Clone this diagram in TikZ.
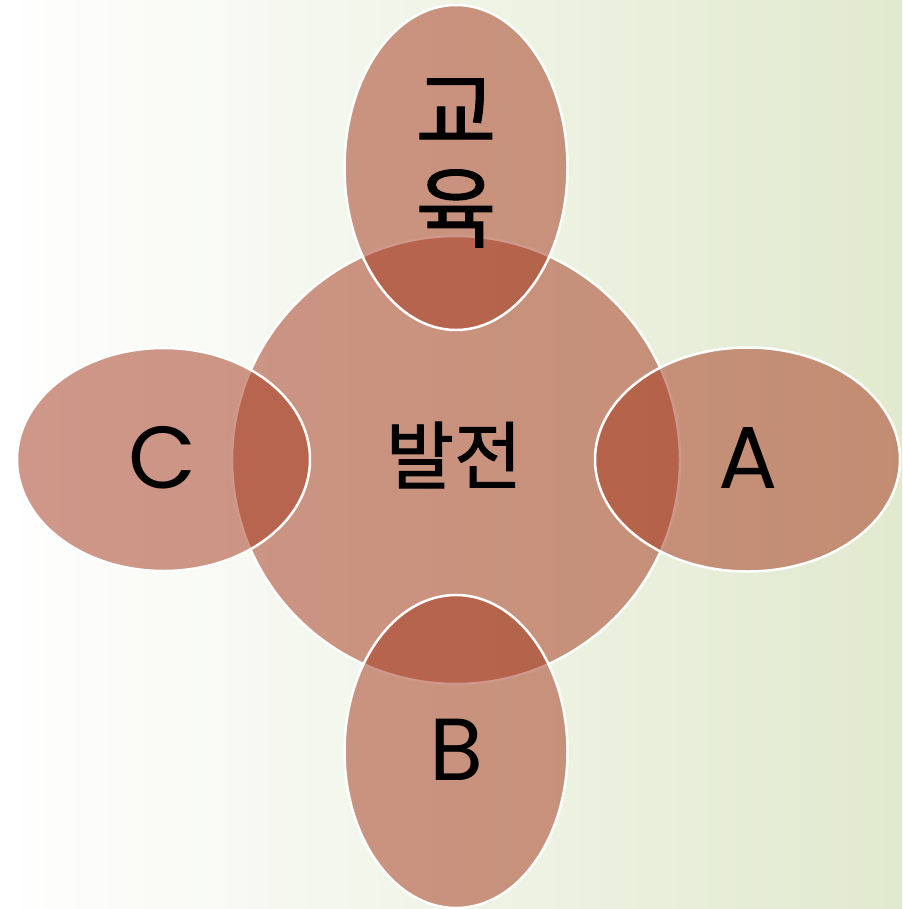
\documentclass[tikz,border=0pt]{standalone}
\usepackage{fontspec}
\setmainfont{Poppins}
\newfontfamily\kr[FakeBold=1.2]{Noto Sans CJK KR}
\usetikzlibrary{shapes.geometric}
\definecolor{bgright}{RGB}{225,233,206}
\definecolor{bgmid}{RGB}{240,244,230}
\definecolor{blobfill}{RGB}{166,60,34}
\begin{document}
\begin{tikzpicture}[x=1pt,y=-1pt,
  blob/.style={fill=blobfill, fill opacity=0.53, draw=white, draw opacity=1,
    line width=2.5pt, inner sep=0pt, outer sep=0pt},
  circ/.style={blob, circle, minimum size=448pt},
  ell/.style={blob, ellipse},
  lbl/.style={text=black, inner sep=0pt, font=\fontsize{88}{88}\selectfont},
  krlbl/.style={text=black, inner sep=0pt, align=center},
]
\useasboundingbox (0,0) rectangle (902,909);
\shade[shading=axis, shading angle=-80, left color=white, middle color=bgmid, right color=bgright] (0,0) rectangle (902,909);
\node[circ] (center) at (456,460) {};
\node[ell, minimum width=223pt, minimum height=325pt] (top) at (456,167.5) {};
\node[ell, minimum width=223pt, minimum height=313pt] (bottom) at (456,751.5) {};
\node[ell, minimum width=293pt, minimum height=223pt] (left) at (163.5,459.5) {};
\node[ell, minimum width=305pt, minimum height=224pt] (right) at (747.5,459.5) {};
\node[krlbl, font=\kr\fontsize{88}{97}\selectfont] (ttop) at (456,163) {교\\육};
\node[krlbl, font=\kr\fontsize{74}{74}\selectfont] (tcenter) at (454,455) {발전};
\node[lbl] (tright) at (748.5,458) {A};
\node[lbl] (tbottom) at (456.5,750) {B};
\node[lbl] (tleft) at (162.5,457.5) {C};
\end{tikzpicture}
\end{document}
